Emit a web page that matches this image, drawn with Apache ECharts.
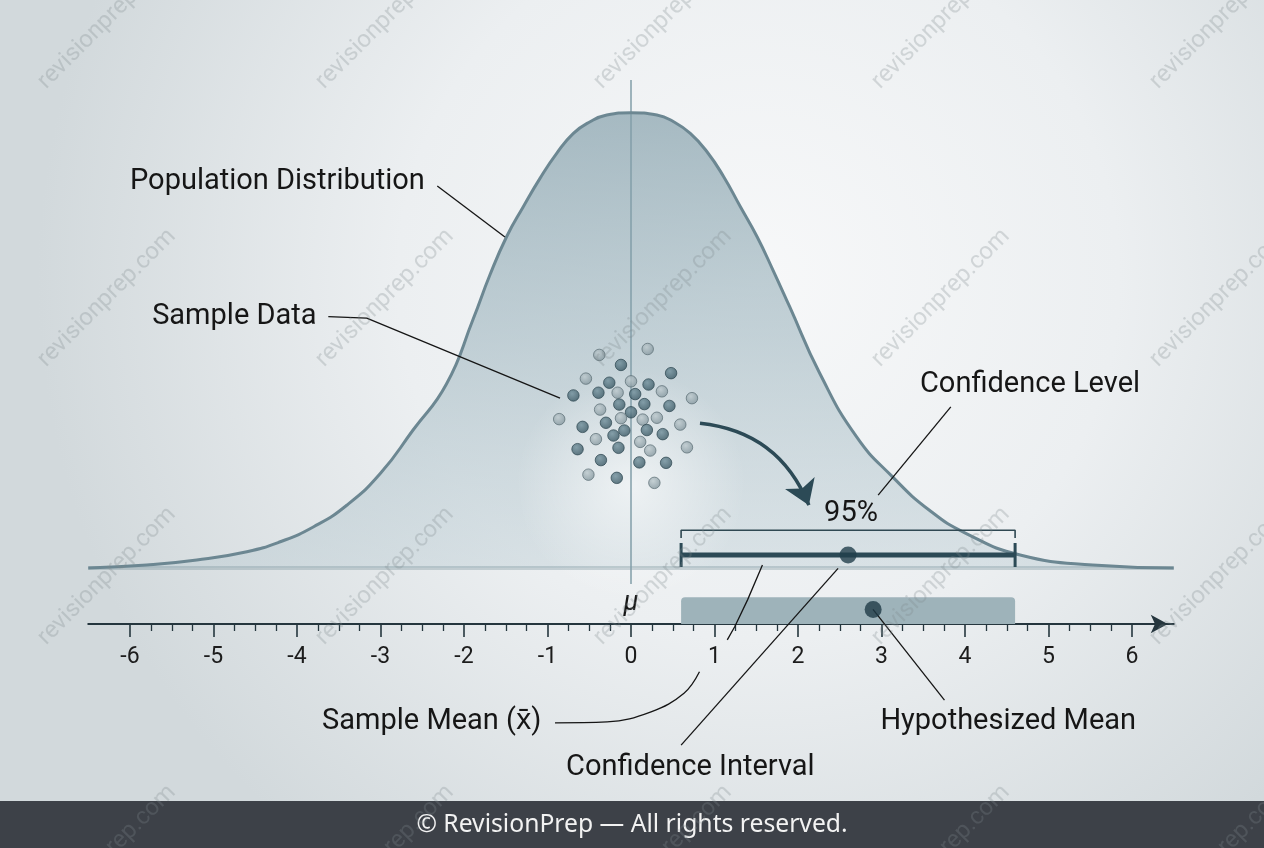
<!DOCTYPE html>
<html>
<head>
<meta charset="utf-8">
<script src="https://cdn.jsdelivr.net/npm/echarts@6/dist/echarts.min.js"></script>
<style>
html,body{margin:0;padding:0;background:#e9edef;}
#chart{width:1264px;height:848px;}
</style>
</head>
<body>
<div id="chart"></div>
<script>
// ---------------- data ----------------
const tickValues = [-6, -5, -4, -3, -2, -1, 0, 1, 2, 3, 4, 5, 6];
const tickLabels = ['-6', '-5', '-4', '-3', '-2', '-1', '0', '1', '2', '3', '4', '5', '6'];

// population distribution curve, height relative to peak
const curveX = [-6.5, -5.80, -5.20, -4.60, -4.20, -3.80, -3.40, -3.00, -2.61, -2.21, -1.89, -1.69, -1.49, -1.29,
                -1.09, -0.89, -0.69, -0.49, -0.29, 0,
                0.31, 0.51, 0.71, 0.91, 1.11, 1.31, 1.51, 1.70, 1.90, 2.26, 2.70, 3.13, 3.57, 4.01, 4.66, 5.53, 6.5];
const curveY = [0, 0.0066, 0.0176, 0.0358, 0.0577, 0.0906, 0.1384, 0.2080, 0.3031, 0.4041, 0.5469, 0.6435, 0.7276, 0.7935,
                0.8558, 0.9107, 0.9546, 0.9802, 0.9949, 1.0,
                0.9949, 0.9802, 0.9546, 0.9143, 0.8594, 0.7935, 0.7276, 0.6545, 0.5739, 0.4277, 0.2884, 0.2006, 0.1274,
                0.0762, 0.0285, 0.0066, 0];

// sample data points (d = dark, l = light)
const sampleX = [-0.38, 0.20, -0.12, 0.48, -0.54, -0.26, 0.00, 0.21, -0.69, -0.39, -0.16, 0.05, 0.37, 0.73,
                 -0.14, 0.16, 0.46, -0.37, 0.00, -0.86, -0.12, 0.14, 0.31, -0.30, -0.58, 0.59, -0.08, 0.19,
                 -0.21, 0.38, -0.42, 0.11, -0.15, 0.67, -0.64, 0.23, -0.36, 0.10, 0.42, -0.51, -0.17, 0.28];
const sampleY = [0.468, 0.481, 0.446, 0.428, 0.416, 0.407, 0.410, 0.403, 0.379, 0.385, 0.385, 0.382, 0.388, 0.373,
                 0.359, 0.360, 0.356, 0.348, 0.342, 0.327, 0.329, 0.326, 0.330, 0.319, 0.310, 0.315, 0.302, 0.303,
                 0.291, 0.294, 0.283, 0.277, 0.264, 0.265, 0.261, 0.258, 0.237, 0.232, 0.231, 0.205, 0.198, 0.187];
const sampleShade = ['l','l','d','d','l','d','l','d','d','d','l','d','l','l',
                     'd','d','d','l','d','l','l','l','l','d','d','l','d','d',
                     'd','d','l','l','d','l','d','l','d','d','d','l','d','l'];

const ciLower = 0.6, ciUpper = 4.6;
const sampleMean = 2.6, ciLevelY = 0.0286;
const hypothesizedMean = 2.9, hypY = -0.091;
const bandTop = -0.064;
const bracketY = 0.083, bracketFoot = 0.066;
const capTop = 0.055, capBottom = 0.002;
const muLineY = [-0.035, 1.072];
const confidenceText = '95%';

// arrow from sample to interval
const arrowFrom = [0.826, 0.318], arrowTo = [2.13, 0.138];

// annotation texts [x, y] in data units
const annoText  = ['Population Distribution', 'Sample Data', 'Confidence Level', confidenceText, 'μ',
                   'Sample Mean (x̄)', 'Confidence Interval', 'Hypothesized Mean'];
const annoX     = [-6.0, -5.735, 3.461, 2.635, 0, -3.70, -0.778, 2.987];
const annoY     = [0.848, 0.552, 0.402, 0.120, -0.077, -0.338, -0.438, -0.338];
const annoAlign = ['left', 'left', 'left', 'center', 'center', 'left', 'left', 'left'];

// leader lines
const leaders = [
  [[-2.32, 0.839], [-1.51, 0.727]],
  [[-3.625, 0.552], [-3.165, 0.549], [-0.85, 0.373]],
  [[3.83, 0.354], [2.96, 0.160]],
  [[0.60, -0.389], [2.48, -0.0007]],
  [[3.754, -0.290], [2.898, -0.091]],
  [[1.153, -0.158], [1.242, -0.129], [1.396, -0.070], [1.574, 0.0066]]
];
const meanLeaderLow = [[-0.91, -0.340], [-0.287, -0.338], [0.24, -0.316], [0.635, -0.275], [0.82, -0.228]];

// ---------------- chart ----------------
const minorTicks = [];
for (let i = 0; i < tickValues.length - 1; i++) {
  for (const f of [0.25, 0.5, 0.75]) minorTicks.push(tickValues[i] + f);
}

const chart = echarts.init(document.getElementById('chart'), null, {renderer: 'canvas'});
const LABEL_FONT = 'Roboto, "Noto Sans", sans-serif';

const curveData = curveX.map((x, i) => [x, curveY[i]]);
const dotData = sampleX.map((x, i) => {
  const dark = sampleShade[i] === 'd';
  return {
    value: [x, sampleY[i]],
    itemStyle: {
      color: new echarts.graphic.RadialGradient(0.4, 0.35, 0.7, dark
        ? [{offset: 0, color: '#6f8e9a'}, {offset: 1, color: '#34525e'}]
        : [{offset: 0, color: '#bdc9cd'}, {offset: 1, color: '#7f929a'}]),
      borderColor: dark ? '#2c4550' : '#5a6d74',
      borderWidth: 0.9
    }
  };
});

const series = [];
// area fill
series.push({
  type: 'line', data: curveData, smooth: 0.5, symbol: 'none', z: 2,
  lineStyle: {width: 0},
  areaStyle: {
    color: new echarts.graphic.LinearGradient(0, 0, 0, 1, [
      {offset: 0, color: 'rgba(122,152,164,0.9)'},
      {offset: 0.5, color: 'rgba(140,168,179,0.68)'},
      {offset: 1, color: 'rgba(178,198,206,0.5)'}
    ])
  },
  silent: true
});
// baseline
series.push({
  type: 'line', data: [[-6.5, 0], [6.5, 0]], symbol: 'none', z: 4,
  lineStyle: {color: 'rgba(120,146,156,0.35)', width: 4}, silent: true
});
// mu vertical line
series.push({
  type: 'line', data: [[0, muLineY[0]], [0, muLineY[1]]], symbol: 'none', z: 4,
  lineStyle: {color: 'rgba(130,158,168,0.75)', width: 2}, silent: true
});
// curve stroke
series.push({
  type: 'line', data: curveData, smooth: 0.5, symbol: 'none', z: 5,
  lineStyle: {color: '#6c8792', width: 3}, silent: true
});
// sample dots
series.push({type: 'scatter', data: dotData, symbolSize: 11.5, z: 6, silent: true});
// hypothesized band
series.push({
  type: 'custom', z: 4, silent: true,
  data: [[ciLower, ciUpper]],
  renderItem: (params, api) => {
    const p1 = api.coord([api.value(0), bandTop]);
    const p2 = api.coord([api.value(1), -0.123]);
    return {type: 'rect', shape: {x: p1[0], y: p1[1], width: p2[0] - p1[0], height: p2[1] - p1[1], r: [4, 4, 0, 0]},
            style: {fill: '#9eb3ba'}};
  }
});
// hypothesized mean dot
series.push({type: 'scatter', data: [[hypothesizedMean, hypY]], symbolSize: 17, z: 8, silent: true,
  itemStyle: {color: '#1f3b47'}});
// bracket
series.push({
  type: 'line', symbol: 'none', z: 6, silent: true,
  data: [[ciLower, bracketFoot], [ciLower, bracketY], [ciUpper, bracketY], [ciUpper, bracketFoot]],
  lineStyle: {color: '#2f4852', width: 1.6}
});
// CI line
series.push({type: 'line', symbol: 'none', z: 6, silent: true,
  data: [[ciLower, ciLevelY], [ciUpper, ciLevelY]], lineStyle: {color: '#2c4a56', width: 5}});
series.push({type: 'line', symbol: 'none', z: 6, silent: true,
  data: [[ciLower, capTop], [ciLower, capBottom]], lineStyle: {color: '#2c4a56', width: 3}});
series.push({type: 'line', symbol: 'none', z: 6, silent: true,
  data: [[ciUpper, capTop], [ciUpper, capBottom]], lineStyle: {color: '#2c4a56', width: 3}});
// sample mean dot
series.push({type: 'scatter', data: [[sampleMean, ciLevelY]], symbolSize: 17, z: 8, silent: true,
  itemStyle: {color: '#223f4b'}});
// arrow
series.push({
  type: 'lines', coordinateSystem: 'cartesian2d', z: 7, silent: true,
  symbol: ['none', 'arrow'], symbolSize: [22, 24],
  lineStyle: {color: '#2c4a56', width: 3.5, curveness: 0.3, opacity: 1},
  data: [{coords: [arrowFrom, arrowTo]}]
});
// leaders
leaders.forEach(pts => series.push({
  type: 'line', data: pts, symbol: 'none', z: 7, silent: true, clip: false,
  lineStyle: {color: '#151515', width: 1.3}
}));
series.push({type: 'line', data: meanLeaderLow, symbol: 'none', smooth: 0.4, z: 7, silent: true, clip: false,
  lineStyle: {color: '#151515', width: 1.3}});
// annotation texts
series.push({
  type: 'custom', z: 9, silent: true, clip: false,
  data: annoX.map((x, i) => [x, annoY[i]]),
  renderItem: (params, api) => {
    const i = params.dataIndex;
    const p = api.coord([api.value(0), api.value(1)]);
    const isMu = annoText[i] === 'μ';
    return {
      type: 'text', x: p[0], y: p[1],
      style: {
        text: annoText[i], fill: '#161616',
        fontFamily: LABEL_FONT, fontSize: isMu ? 27 : 29, fontStyle: isMu ? 'italic' : 'normal',
        align: annoAlign[i], verticalAlign: 'middle'
      }
    };
  }
});

// watermarks + decorations
const graphics = [];
graphics.push({type: 'rect', z: -10, silent: true, shape: {x: 0, y: 0, width: 1264, height: 848},
  style: {fill: new echarts.graphic.RadialGradient(0.6, 0.33, 0.85, [
    {offset: 0, color: '#f7f8f9'}, {offset: 0.5, color: '#eceff1'}, {offset: 1, color: '#d2d9dc'}])}});
graphics.push({type: 'ellipse', z: 3, silent: true, shape: {cx: 631, cy: 445, rx: 115, ry: 200},
  style: {fill: new echarts.graphic.RadialGradient(0.5, 0.6, 0.5, [
    {offset: 0, color: 'rgba(255,255,255,0.62)'}, {offset: 1, color: 'rgba(255,255,255,0)'}])}});
graphics.push({type: 'rect', z: 50, silent: true, shape: {x: 0, y: 801, width: 1264, height: 47},
  style: {fill: '#3d4148'}});
graphics.push({type: 'text', z: 51, silent: true, x: 632, y: 825,
  style: {text: '© RevisionPrep — All rights reserved.', fill: '#f2f2f2', fontSize: 24.7,
          fontFamily: '"Noto Sans", "Open Sans", sans-serif', align: 'center', verticalAlign: 'middle'}});
const wmCols = [107, 385, 663, 941, 1219];
const wmRows = [20, 298, 576, 854];
wmRows.forEach(y => wmCols.forEach(x => graphics.push({
  type: 'text', z: 100, silent: true, x: x, y: y, rotation: Math.PI / 4,
  style: {text: 'revisionprep.com', fill: 'rgba(125,135,140,0.28)', fontSize: 24,
          fontFamily: LABEL_FONT, align: 'center', verticalAlign: 'middle'}
})));

chart.setOption({
  animation: false,
  grid: {left: 88.25, right: 90.25, top: 67.2, bottom: 224},
  xAxis: [{
    type: 'value', min: -6.5, max: 6.5, position: 'bottom',
    axisLine: {show: true, onZero: false, lineStyle: {color: '#25363e', width: 2},
      symbol: ['none', 'arrow'], symbolSize: [14, 17], symbolOffset: [0, -6]},
    axisTick: {show: true, customValues: tickValues, length: 13, lineStyle: {color: '#25363e', width: 1.6}},
    axisLabel: {customValues: tickValues, formatter: v => tickLabels[tickValues.indexOf(v)] ?? String(v),
      fontSize: 23, color: '#1c1c1c', margin: 22, fontFamily: LABEL_FONT},
    splitLine: {show: false}
  }, {
    type: 'value', min: -6.5, max: 6.5, position: 'bottom',
    axisLine: {show: false, onZero: false},
    axisTick: {show: true, customValues: minorTicks, length: 7, lineStyle: {color: '#25363e', width: 1.3}},
    axisLabel: {show: false},
    splitLine: {show: false}
  }],
  yAxis: {type: 'value', min: -0.123, max: 1.1, show: false},
  graphic: graphics,
  series: series
});
</script>
</body>
</html>
